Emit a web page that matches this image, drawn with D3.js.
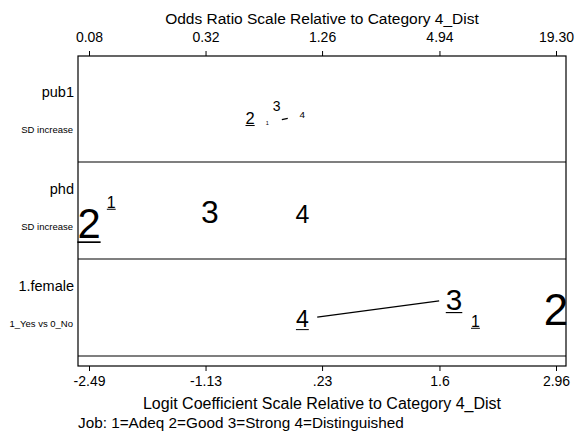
<!DOCTYPE html>
<html>
<head>
<meta charset="utf-8">
<script src="https://cdn.jsdelivr.net/npm/d3@7"></script>
<style>
  body { margin: 0; background: #fff; }
  svg { display: block; font-family: "Liberation Sans", Arial, sans-serif; }
</style>
</head>
<body>
<div id="chart"></div>
<script>
// variables (rows) and outcome letters
let vars = ["pub1", "phd", "1.female"]
let varNotes = ["SD increase", "SD increase", "1_Yes vs 0_No"]
let outcomes = ["1", "2", "3", "4"]

// logit coefficients relative to category 4, per row, per outcome 1..4
let coef = [
  [-0.41, -0.61, -0.30, 0],
  [-2.23, -2.49, -1.08, 0],
  [2.02, 2.96, 1.77, 0]
]
// size of discrete change (letter size)
let dcSize = [
  [0.05, 0.15, 0.127, 0.09],
  [0.145, 0.38, 0.29, 0.227],
  [0.145, 0.40, 0.27, 0.21]
]
// underlined letters
let signif = [
  [0, 1, 0, 0],
  [1, 1, 0, 0],
  [1, 0, 1, 1]
]
// vertical spread of the letters inside a row (row units)
let rowOffset = [
  [0.098, 0.046, -0.077, 0.015],
  [-0.088, 0.129, 0.015, 0.036],
  [0.139, 0.015, -0.088, 0.119]
]
// pairs of outcomes joined by a line
let links = [[[0, 3]], [], [[3, 2]]]

let logitTicks = [-2.49, -1.13, 0.23, 1.6, 2.96]
let logitLabels = ["-2.49", "-1.13", ".23", "1.6", "2.96"]
let orLabels = ["0.08", "0.32", "1.26", "4.94", "19.30"]

let width = 576
let height = 436
let frame = { left: 78, right: 566, top: 56, bottom: 366 }
let tickFont = 14

let svg = d3.select("#chart").append("svg")
  .attr("width", width)
  .attr("height", height)

let x = d3.scaleLinear()
  .domain([logitTicks[0], logitTicks[logitTicks.length - 1]])
  .range([89, 556])

let y = d3.scaleLinear()
  .domain([0, vars.length])
  .range([65, 356])

let fontSize = d3.scaleLinear().domain([0, 0.4]).range([0, 44])
let capH = 0.716

// frame
svg.append("rect")
  .attr("x", frame.left)
  .attr("y", frame.top)
  .attr("width", frame.right - frame.left)
  .attr("height", frame.bottom - frame.top)
  .attr("fill", "none")
  .attr("stroke", "#000")
  .attr("stroke-width", 1.2)

// lines between rows
svg.selectAll(".sep")
  .data(d3.range(1, vars.length + 1))
  .enter()
  .append("line")
  .attr("x1", frame.left)
  .attr("x2", frame.right)
  .attr("y1", d => y(d))
  .attr("y2", d => y(d))
  .attr("stroke", "#000")
  .attr("stroke-width", 1.2)

// axes
let xBottom = d3.axisBottom(x)
  .tickValues(logitTicks)
  .tickFormat((d, i) => logitLabels[i])
  .tickSize(5)
  .tickPadding(5)

let xTop = d3.axisTop(x)
  .tickValues(logitTicks)
  .tickFormat((d, i) => orLabels[i])
  .tickSize(5)
  .tickPadding(9)

let gb = svg.append("g")
  .attr("transform", "translate(0," + frame.bottom + ")")
  .call(xBottom)
let gt = svg.append("g")
  .attr("transform", "translate(0," + frame.top + ")")
  .call(xTop)

;[gb, gt].forEach(g => {
  g.select(".domain").remove()
  g.selectAll("line").attr("stroke", "#000")
  g.selectAll("text")
    .attr("fill", "#000")
    .style("font-size", tickFont + "px")
    .style("font-family", "'Liberation Sans', Arial, sans-serif")
})

// titles
svg.append("text")
  .attr("x", (frame.left + frame.right) / 2)
  .attr("y", 24)
  .attr("text-anchor", "middle")
  .style("font-size", "15.5px")
  .text("Odds Ratio Scale Relative to Category 4_Dist")

svg.append("text")
  .attr("x", (frame.left + frame.right) / 2)
  .attr("y", 409)
  .attr("text-anchor", "middle")
  .style("font-size", "16px")
  .text("Logit Coefficient Scale Relative to Category 4_Dist")

svg.append("text")
  .attr("x", frame.left)
  .attr("y", 428)
  .style("font-size", "15.3px")
  .text("Job: 1=Adeq 2=Good 3=Strong 4=Distinguished")

// row labels
vars.forEach((v, r) => {
  svg.append("text")
    .attr("x", 74)
    .attr("y", y(r) + 26.5 + 14.5 * capH / 2)
    .attr("text-anchor", "end")
    .style("font-size", "14.5px")
    .text(v)
  svg.append("text")
    .attr("x", 73)
    .attr("y", y(r) + 65 + 9.5 * capH / 2)
    .attr("text-anchor", "end")
    .style("font-size", "9.5px")
    .text(varNotes[r])
})

// letter positions
function cx(r, k) { return x(coef[r][k]) }
function cy(r, k) { return y(r + 0.5 + rowOffset[r][k]) }

// connecting lines, trimmed near the letters
let gap = 15
links.forEach((pairs, r) => {
  pairs.forEach(p => {
    let x1 = cx(r, p[0]), y1 = cy(r, p[0])
    let x2 = cx(r, p[1]), y2 = cy(r, p[1])
    let len = Math.hypot(x2 - x1, y2 - y1)
    let ux = (x2 - x1) / len, uy = (y2 - y1) / len
    svg.append("line")
      .attr("x1", x1 + ux * gap)
      .attr("y1", y1 + uy * gap)
      .attr("x2", x2 - ux * gap)
      .attr("y2", y2 - uy * gap)
      .attr("stroke", "#000")
      .attr("stroke-width", 1.2)
  })
})

// letters
let letters = []
vars.forEach((v, r) => {
  outcomes.forEach((o, k) => {
    letters.push({ r: r, k: k, label: o })
  })
})

let lg = svg.selectAll(".letter")
  .data(letters)
  .enter()
  .append("g")
  .attr("class", "letter")

lg.append("text")
  .attr("x", d => cx(d.r, d.k))
  .attr("y", d => cy(d.r, d.k) + fontSize(dcSize[d.r][d.k]) * capH / 2)
  .attr("text-anchor", "middle")
  .style("font-size", d => fontSize(dcSize[d.r][d.k]) + "px")
  .text(d => d.label)

lg.filter(d => signif[d.r][d.k])
  .append("line")
  .attr("x1", d => cx(d.r, d.k) - fontSize(dcSize[d.r][d.k]) * 0.278)
  .attr("x2", d => cx(d.r, d.k) + fontSize(dcSize[d.r][d.k]) * 0.278)
  .attr("y1", d => cy(d.r, d.k) + fontSize(dcSize[d.r][d.k]) * (capH / 2 + 0.1))
  .attr("y2", d => cy(d.r, d.k) + fontSize(dcSize[d.r][d.k]) * (capH / 2 + 0.1))
  .attr("stroke", "#000")
  .attr("stroke-width", d => Math.max(1, fontSize(dcSize[d.r][d.k]) / 25))
</script>
</body>
</html>
